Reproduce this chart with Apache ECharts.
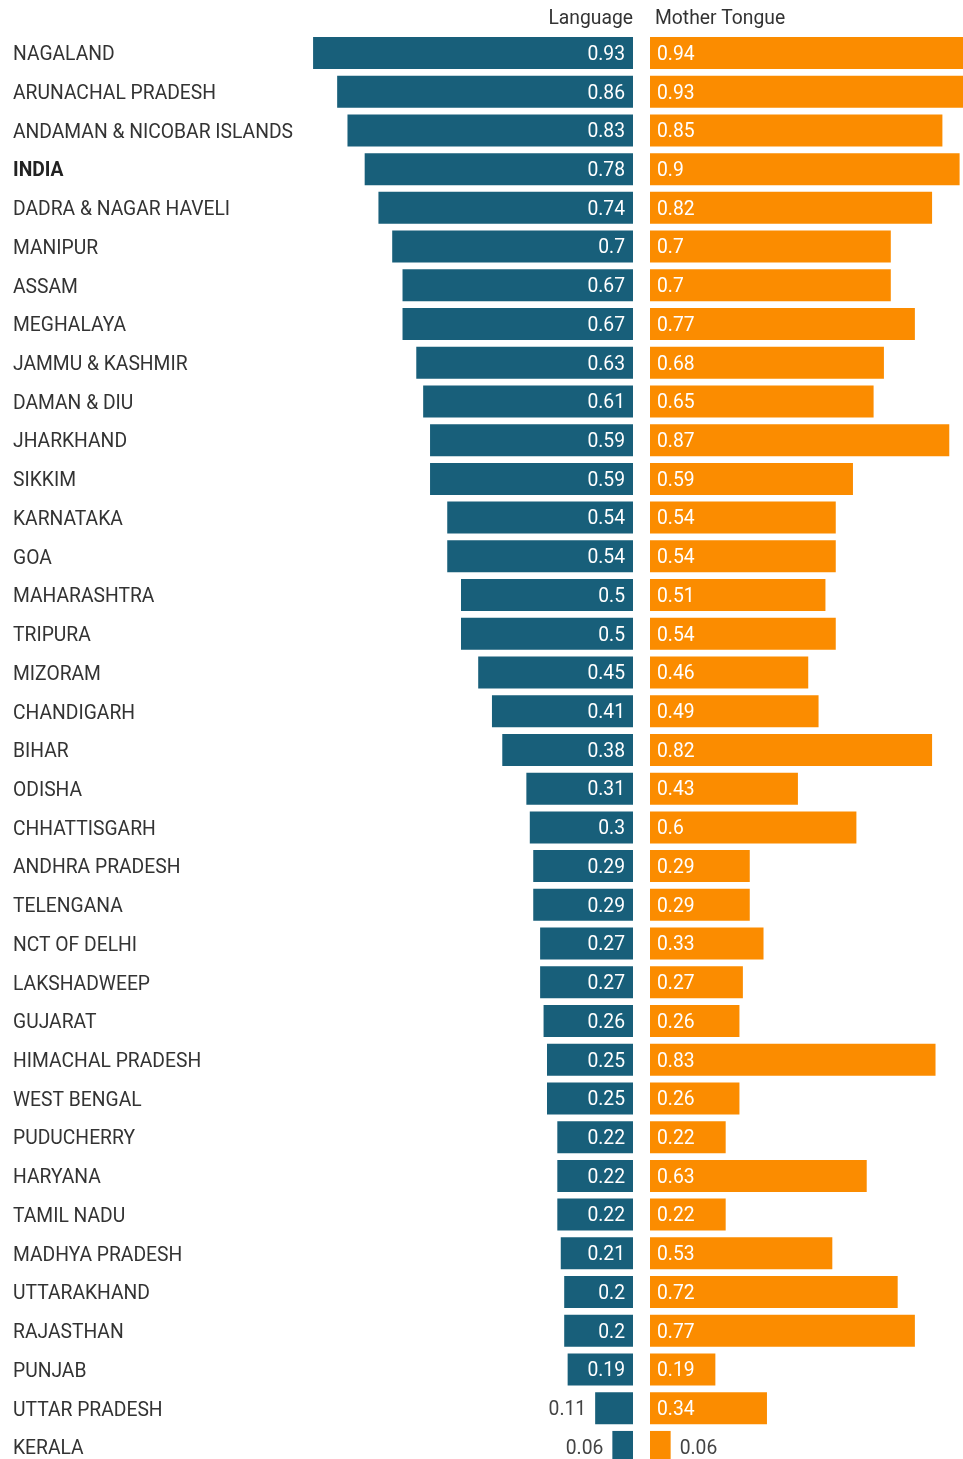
<!DOCTYPE html>
<html>
<head>
<meta charset="utf-8">
<script src="https://cdn.jsdelivr.net/npm/echarts@6/dist/echarts.min.js"></script>
<style>
  html, body { margin: 0; padding: 0; background: #fff; }
  #chart { width: 963px; height: 1459px; }
</style>
</head>
<body>
<div id="chart"></div>
<script>
// states, top to bottom
const states = [
  "NAGALAND", "ARUNACHAL PRADESH", "ANDAMAN & NICOBAR ISLANDS", "INDIA",
  "DADRA & NAGAR HAVELI", "MANIPUR", "ASSAM", "MEGHALAYA", "JAMMU & KASHMIR",
  "DAMAN & DIU", "JHARKHAND", "SIKKIM", "KARNATAKA", "GOA", "MAHARASHTRA",
  "TRIPURA", "MIZORAM", "CHANDIGARH", "BIHAR", "ODISHA", "CHHATTISGARH",
  "ANDHRA PRADESH", "TELENGANA", "NCT OF DELHI", "LAKSHADWEEP", "GUJARAT",
  "HIMACHAL PRADESH", "WEST BENGAL", "PUDUCHERRY", "HARYANA", "TAMIL NADU",
  "MADHYA PRADESH", "UTTARAKHAND", "RAJASTHAN", "PUNJAB", "UTTAR PRADESH", "KERALA"
];
// Language
const language = [
  0.93, 0.86, 0.83, 0.78, 0.74, 0.7, 0.67, 0.67, 0.63, 0.61, 0.59, 0.59, 0.54,
  0.54, 0.5, 0.5, 0.45, 0.41, 0.38, 0.31, 0.3, 0.29, 0.29, 0.27, 0.27, 0.26,
  0.25, 0.25, 0.22, 0.22, 0.22, 0.21, 0.2, 0.2, 0.19, 0.11, 0.06
];
// Mother Tongue
const motherTongue = [
  0.94, 0.93, 0.85, 0.9, 0.82, 0.7, 0.7, 0.77, 0.68, 0.65, 0.87, 0.59, 0.54,
  0.54, 0.51, 0.54, 0.46, 0.49, 0.82, 0.43, 0.6, 0.29, 0.29, 0.33, 0.27, 0.26,
  0.83, 0.26, 0.22, 0.63, 0.22, 0.53, 0.72, 0.77, 0.19, 0.34, 0.06
];

const chart = echarts.init(document.getElementById("chart"));
const font = "Roboto";
const fs = 19.3;
const teal = "#185f7a";
const orange = "#fb8c00";

// small bars get their label outside
function withLabels(arr, outsidePos) {
  return arr.map(v => v < 0.15
    ? { value: v, label: { position: outsidePos, color: "#444", distance: 9 } }
    : v);
}

chart.setOption({
  backgroundColor: "#fff",
  animation: false,
  textStyle: { fontFamily: font },
  title: [
    {
      text: "Language",
      right: 325,
      top: 5,
      textStyle: { fontFamily: font, fontSize: fs, fontWeight: "normal", color: "#333" }
    },
    {
      text: "Mother Tongue",
      left: 650,
      top: 5,
      textStyle: { fontFamily: font, fontSize: fs, fontWeight: "normal", color: "#333" }
    }
  ],
  grid: [
    { left: 289, width: 344, top: 33.6, height: 1432.7, outerBoundsMode: "none" },
    { left: 650, width: 344, top: 33.6, height: 1432.7, outerBoundsMode: "none" }
  ],
  xAxis: [
    { gridIndex: 0, type: "value", min: 0, max: 1, inverse: true, show: false },
    { gridIndex: 1, type: "value", min: 0, max: 1, show: false }
  ],
  yAxis: [
    {
      gridIndex: 0,
      type: "category",
      data: states,
      inverse: true,
      position: "left",
      axisLine: { show: false, onZero: false },
      axisTick: { show: false },
      axisLabel: {
        align: "left",
        margin: 276,
        padding: [5, 0, 0, 0],
        fontFamily: font,
        fontSize: fs,
        color: "#333",
        formatter: v => v === "INDIA" ? "{b|" + v + "}" : v,
        rich: { b: { fontFamily: font, fontSize: fs, fontWeight: "bold", color: "#222" } }
      }
    },
    {
      gridIndex: 1,
      type: "category",
      data: states,
      inverse: true,
      show: false
    }
  ],
  series: [
    {
      name: "Language",
      type: "bar",
      xAxisIndex: 0,
      yAxisIndex: 0,
      barWidth: 32,
      itemStyle: { color: teal },
      label: {
        show: true,
        position: "insideRight",
        distance: 8,
        offset: [0, 2],
        color: "#fff",
        fontFamily: font,
        fontSize: fs
      },
      data: withLabels(language, "left")
    },
    {
      name: "Mother Tongue",
      type: "bar",
      xAxisIndex: 1,
      yAxisIndex: 1,
      barWidth: 32,
      itemStyle: { color: orange },
      label: {
        show: true,
        position: "insideLeft",
        distance: 7,
        offset: [0, 2],
        color: "#fff",
        fontFamily: font,
        fontSize: fs
      },
      data: withLabels(motherTongue, "right")
    }
  ]
});
</script>
</body>
</html>
